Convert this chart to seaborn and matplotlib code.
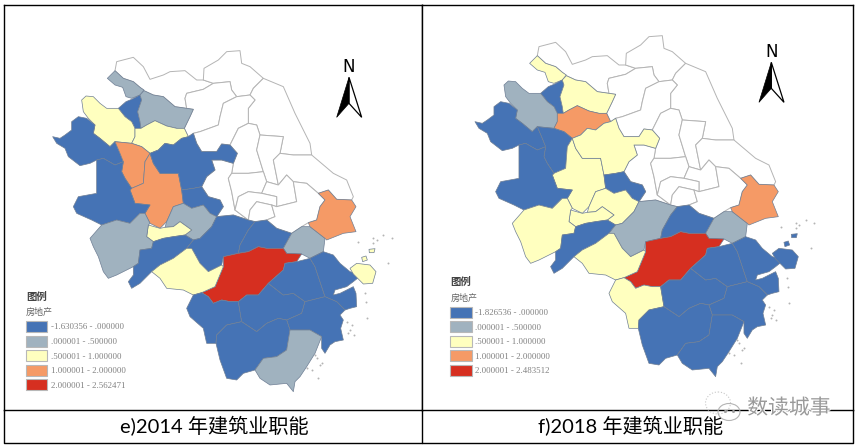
"""
2014 / 2018 建筑业职能 map panels. Outlines read off the reference picture.
"""
import matplotlib
matplotlib.use("Agg")
import matplotlib.pyplot as plt
from matplotlib.patches import Ellipse, Patch, Polygon
import matplotlib.patheffects as pe
import pandas as pd
import seaborn as sns

# --------- Regions with a class in each year ---------
r01 = [(322,235),(345,212),(370,235),(400,245),(420,262),(432,270),(420,285),(395,295),(378,290),(368,262),(345,255)]
r02 = [(355,325),(378,305),(395,298),(420,285),(425,300),(413,335),(420,365),(423,385),(405,385),(395,365),(375,350)]
r03 = [(420,285),(432,272),(460,285),(490,290),(525,320),(560,325),(580,328),(570,350),(553,385),(530,385),(500,378),(465,362),(440,375),(423,385),(420,365),(413,335),(425,300)]
r04 = [(245,300),(258,288),(280,290),(300,310),(320,325),(355,325),(375,350),(395,365),(405,385),(405,410),(395,430),(345,425),(330,440),(300,415),(280,400),(285,375),(265,355),(250,335)]
r05 = [(405,385),(423,385),(440,375),(465,362),(500,378),(530,385),(553,385),(565,410),(545,415),(520,435),(495,430),(475,450),(450,460),(425,440),(395,430),(405,410)]
r06 = [(158,410),(180,415),(195,405),(215,390),(215,365),(235,350),(260,355),(285,375),(280,400),(300,415),(330,440),(345,425),(360,460),(370,485),(345,495),(310,475),(290,480),(270,490),(240,497),(205,470),(195,445),(170,430)]
r07 = [(345,425),(395,430),(425,440),(450,460),(435,485),(430,550),(395,565),(375,535),(365,515),(370,485),(360,460)]
r08 = [(450,460),(460,490),(480,520),(535,520),(545,570),(550,610),(520,620),(500,665),(480,685),(450,670),(435,640),(450,615),(405,610),(390,570),(395,565),(430,550),(435,485)]
r09 = [(290,480),(310,475),(345,495),(370,485),(365,515),(375,535),(395,565),(390,570),(405,610),(450,615),(435,640),(420,640),(390,670),(350,660),(305,675),(275,660),(230,640),(220,620),(235,590),(290,580),(290,510)]
r10 = [(450,460),(475,450),(495,430),(520,435),(545,415),(565,410),(580,400),(590,430),(605,455),(650,455),(665,432),(690,435),(712,460),(700,490),(665,480),(635,480),(645,510),(620,530),(605,560),(580,565),(545,570),(535,520),(480,520),(460,490)]
r11 = [(545,570),(580,565),(605,560),(625,590),(660,600),(670,620),(650,650),(630,640),(610,615),(575,625),(550,610)]
r12 = [(520,620),(550,610),(575,625),(610,615),(630,640),(650,650),(635,680),(600,715),(580,720),(555,705),(575,690),(540,665),(520,680),(495,682),(500,665)]
r13 = [(445,675),(480,685),(495,682),(520,680),(540,665),(575,690),(555,705),(520,710),(490,715),(460,725),(440,710)]
r14 = [(270,715),(305,675),(350,660),(390,670),(420,640),(435,640),(450,670),(445,675),(440,710),(460,725),(455,745),(420,750),(415,790),(400,800),(350,825),(325,835),(310,815),(295,770),(280,740)]
r15 = [(460,725),(490,715),(520,710),(555,705),(580,720),(560,745),(520,775),(480,795),(455,815),(420,850),(395,865),(385,845),(400,825),(400,800),(415,790),(420,750),(455,745)]
r16 = [(560,745),(580,720),(600,715),(635,680),(650,650),(700,645),(745,660),(765,665),(745,690),(720,735),(715,760),(670,770),(665,795),(625,815),(600,790),(575,745)]
r17 = [(765,665),(800,660),(830,685),(875,700),(850,745),(800,745),(775,740),(745,755),(715,760),(720,735),(745,690)]
r18 = [(850,745),(875,700),(905,680),(930,680),(975,715),(970,755),(930,775),(905,762),(860,760)]
r19 = [(925,668),(950,660),(960,620),(975,600),(955,580),(985,570),(1010,598),(1055,600),(1068,620),(1050,650),(1068,695),(1030,700),(980,720),(975,715),(930,680)]
r20 = [(605,878),(645,860),(670,800),(670,770),(715,760),(745,755),(775,740),(800,745),(850,745),(860,760),(905,762),(890,785),(855,790),(850,810),(805,850),(775,885),(740,885),(715,905),(690,905),(665,900),(640,910),(625,890)]
r21 = [(455,815),(480,795),(520,775),(560,745),(575,745),(600,790),(625,815),(665,795),(670,800),(645,860),(605,878),(580,885),(550,870),(500,865),(480,835)]
r22 = [(560,925),(580,885),(605,878),(625,890),(640,910),(665,900),(690,905),(715,905),(725,965),(680,975),(650,1005),(648,1030),(620,1030),(610,985),(570,950)]
r23 = [(715,905),(740,885),(775,885),(805,850),(850,885),(880,880),(915,905),(905,940),(860,960),(835,955),(800,970),(770,995),(725,965)]
r24 = [(805,850),(850,810),(855,790),(890,785),(930,775),(945,800),(965,860),(975,890),(915,905),(880,880),(850,885)]
r25 = [(930,775),(970,755),(1000,765),(1020,790),(1050,815),(1085,825),(1060,845),(1040,860),(1005,870),(1000,885),(1020,880),(1060,860),(1068,880),(1070,920),(1050,925),(1035,930),(1010,905),(975,890),(965,860),(945,800)]
r26 = [(915,905),(975,890),(1010,905),(1035,930),(1020,945),(1030,960),(1022,985),(1030,1020),(1005,1025),(990,1035),(975,1060),(965,1045),(965,1010),(930,990),(870,990),(860,960),(905,940)]
r27 = [(650,1005),(680,975),(725,965),(770,995),(800,970),(835,955),(860,960),(870,990),(860,1050),(830,1070),(790,1075),(765,1110),(730,1120),(710,1140),(680,1135),(660,1080),(648,1030)]
r28 = [(765,1110),(790,1075),(830,1070),(860,1050),(870,990),(930,990),(965,1010),(945,1060),(920,1100),(900,1130),(885,1145),(880,1175),(860,1150),(810,1155),(780,1135)]
r29 = [(1050,805),(1070,790),(1110,795),(1128,815),(1118,850),(1090,852),(1060,822)]
r30 = [(1085,772),(1098,768),(1102,780),(1088,785)]
r31 = [(1107,748),(1125,746),(1122,758),(1108,758)]

regions = [r01,r02,r03,r04,r05,r06,r07,r08,r09,r10,r11,r12,r13,r14,r15,r16,r17,r18,r19,r20,r21,r22,r23,r24,r25,r26,r27,r28,r29,r30,r31]
# 0 blue, 1 gray, 2 yellow, 3 orange, 4 red
class_2014 = [1,0,1,2,2,0,3,3,0,0,0,1,2,1,0,0,0,1,3,4,2,0,0,0,0,0,0,1,2,2,2]
class_2018 = [2,0,2,1,3,0,0,2,0,2,0,2,2,2,0,1,0,1,3,4,2,2,0,0,0,0,0,0,0,0,0]

# --------- Regions left blank ---------
w01 = [(350,185),(400,172),(430,200),(450,238),(490,225),(510,215),(555,212),(590,240),(610,240),(640,250),(610,268),(560,280),(555,295),(560,325),(525,320),(490,290),(460,285),(432,272),(420,262),(400,245),(370,235),(345,212)]
w02 = [(610,240),(612,205),(655,180),(680,155),(720,152),(725,190),(750,200),(790,235),(760,265),(750,285),(710,290),(695,270),(690,245),(640,250)]
w03 = [(560,280),(610,268),(640,250),(690,245),(695,270),(710,290),(670,310),(660,350),(655,375),(600,395),(580,400),(565,410),(553,385),(570,350),(580,328),(560,325),(555,295)]
w04 = [(790,235),(850,260),(885,340),(930,430),(935,465),(880,465),(840,460),(850,410),(780,405),(770,375),(745,370),(745,325),(765,300),(750,285),(760,265)]
w05 = [(660,350),(670,310),(710,290),(750,285),(765,300),(745,325),(745,370),(715,385),(690,435),(665,432),(650,455),(605,455),(590,430),(580,400),(600,395),(655,375)]
w06 = [(715,385),(745,370),(770,375),(780,405),(770,450),(790,515),(745,520),(695,520),(700,490),(712,460),(690,435)]
w07 = [(780,405),(850,410),(840,460),(820,480),(835,555),(800,545),(790,515),(770,450)]
w08 = [(840,460),(880,465),(935,465),(1000,520),(1040,540),(1060,590),(1055,600),(1010,598),(985,570),(955,580),(920,550),(880,545),(860,525),(835,555),(820,480)]
w09 = [(635,480),(665,480),(700,490),(695,520),(685,535),(695,575),(705,630),(745,660),(700,645),(650,650),(670,620),(660,600),(625,590),(605,560),(620,530),(645,510)]
w10 = [(695,520),(745,520),(790,515),(800,545),(785,580),(745,575),(715,590),(705,630),(695,575),(685,535)]
w11 = [(800,545),(835,555),(860,525),(880,545),(890,605),(830,620),(830,590),(785,580)]
w12 = [(715,590),(745,575),(785,580),(830,590),(830,620),(815,615),(770,605),(750,630),(745,660),(705,630)]
w13 = [(745,660),(750,630),(770,605),(815,615),(825,650),(800,660),(765,665)]
w14 = [(825,650),(815,615),(830,620),(890,605),(880,545),(920,550),(955,580),(975,600),(960,620),(950,660),(925,668),(905,680),(875,700),(830,685),(800,660)]
blank_regions = [w01,w02,w03,w04,w05,w06,w07,w08,w09,w10,w11,w12,w13,w14]

# --------- Small islands ---------
island_x = [1040,1055,1050,1062,1100,1120,1130,1150,1175,1120,1075,1095,1165,1098,950,965,945,960,920,935,955,1045]
island_y = [965,975,990,1005,955,715,720,705,715,730,725,880,790,905,1075,1090,1065,1095,1105,1110,1135,1000]

# --------- Legends and captions ---------
legend_labels_2014 = ["-1.630356 - .000000", ".000001 - .500000", ".500001 - 1.000000", "1.000001 - 2.000000", "2.000001 - 2.562471"]
legend_labels_2018 = ["-1.826536 - .000000", ".000001 - .500000", ".500001 - 1.000000", "1.000001 - 2.000000", "2.000001 - 2.483512"]
caption_2014 = "e)2014 年建筑业职能"
caption_2018 = "f)2018 年建筑业职能"

palette = sns.color_palette(["#4573B5", "#A0B2BF", "#FFFFBF", "#F59A66", "#D62F20"])
CJK = ["Noto Sans CJK SC", "DejaVu Sans"]

sns.set_theme(style="white")
plt.rcParams["font.family"] = CJK


def add_panel(fig, box, dx, dy, classes, labels, legend_dx, legend_dy):
    # box is (left, top, right, bottom) in picture pixels, map coords are 3x pixels
    left, top, right, bottom = box
    ax = fig.add_axes([left / 858, 1 - bottom / 446, (right - left) / 858, (bottom - top) / 446])
    ax.set_xlim((left - dx) * 3, (right - dx) * 3)
    ax.set_ylim((bottom - dy) * 3, (top - dy) * 3)
    ax.set_xticks([])
    ax.set_yticks([])
    for spine in ax.spines.values():
        spine.set_visible(True)
        spine.set_color("black")
        spine.set_linewidth(1)

    for outline in blank_regions:
        ax.add_patch(Polygon(outline, closed=True, facecolor="white", edgecolor="#b4b4b4", linewidth=0.7, joinstyle="round"))
    for outline, cls in zip(regions, classes):
        ax.add_patch(Polygon(outline, closed=True, facecolor=palette[cls], edgecolor="#6f7f95", linewidth=0.5, joinstyle="round"))

    specks = pd.DataFrame({"x": island_x, "y": island_y})
    sns.scatterplot(data=specks, x="x", y="y", ax=ax, s=2, color="#b4b4b4", linewidth=0, legend=False)
    ax.set_xlabel("")
    ax.set_ylabel("")

    # north arrow
    ax.text(1047, 200, "N", ha="center", va="center", fontsize=12, family="DejaVu Sans", color="black")
    ax.add_patch(Polygon([(1047,232),(1085,352),(1047,310)], closed=True, facecolor="white", edgecolor="black", linewidth=0.9))
    ax.add_patch(Polygon([(1047,232),(1010,352),(1047,310)], closed=True, facecolor="black", edgecolor="black", linewidth=0.5))

    # legend, header lines first
    ax.text(78 + legend_dx, 890 + legend_dy, "图例", fontsize=7.5, fontweight="bold", color="#444444", va="center")
    ax.text(78 + legend_dx, 938 + legend_dy, "房地产", fontsize=6.5, color="#666666", va="center")
    handles = [Patch(facecolor=c, edgecolor="#b8b8b8", linewidth=0.8) for c in palette]
    ax.legend(handles, labels, loc="upper left", bbox_to_anchor=(77 + legend_dx, 963 + legend_dy),
              bbox_transform=ax.transData, frameon=False, borderpad=0, borderaxespad=0,
              handlelength=2.45, handleheight=1.55, handletextpad=0.42, labelspacing=0.38,
              prop={"family": "Liberation Serif", "size": 6.4}, labelcolor="#808080")
    return ax


fig = plt.figure(figsize=(8.58, 4.46), dpi=100)
add_panel(fig, (3.5, 4.5, 421.5, 410), 0, 0, class_2014, legend_labels_2014, 0, 0)
add_panel(fig, (421.5, 4.5, 853, 410), 422.3, -15, class_2018, legend_labels_2018, 6, 2)

# overlay in picture pixels: caption cells and watermark
over = fig.add_axes([0, 0, 1, 1], facecolor="none")
over.set_xlim(0, 858)
over.set_ylim(446, 0)
over.axis("off")
over.plot([3.5, 3.5, 853, 853], [410, 443, 443, 410], color="black", lw=1)
over.plot([421.5, 421.5], [410, 443], color="black", lw=1)

caption_font = ["Lato", "Noto Sans CJK SC"]
over.text(214, 426, caption_2014, ha="center", va="center", fontsize=14.5, family=caption_font, color="black")
over.text(631, 426, caption_2018, ha="center", va="center", fontsize=14.5, family=caption_font, color="black")

# watermark
over.add_patch(Ellipse((718, 403), 25, 22, facecolor="none", edgecolor="#c8c8c8", lw=0.8, ls=":"))
over.add_patch(Ellipse((729, 412), 22, 17, facecolor="none", edgecolor="#b4b4b4", lw=0.8))
over.plot([725, 733], [411, 411], ls="none", marker="o", ms=1.2, color="#a0a0a0")
over.text(789, 408, "数读城事", ha="center", va="center", fontsize=15, color="#9a9a9a",
          path_effects=[pe.withStroke(linewidth=1.5, foreground="white")])

fig.savefig("out.png", dpi=100)
